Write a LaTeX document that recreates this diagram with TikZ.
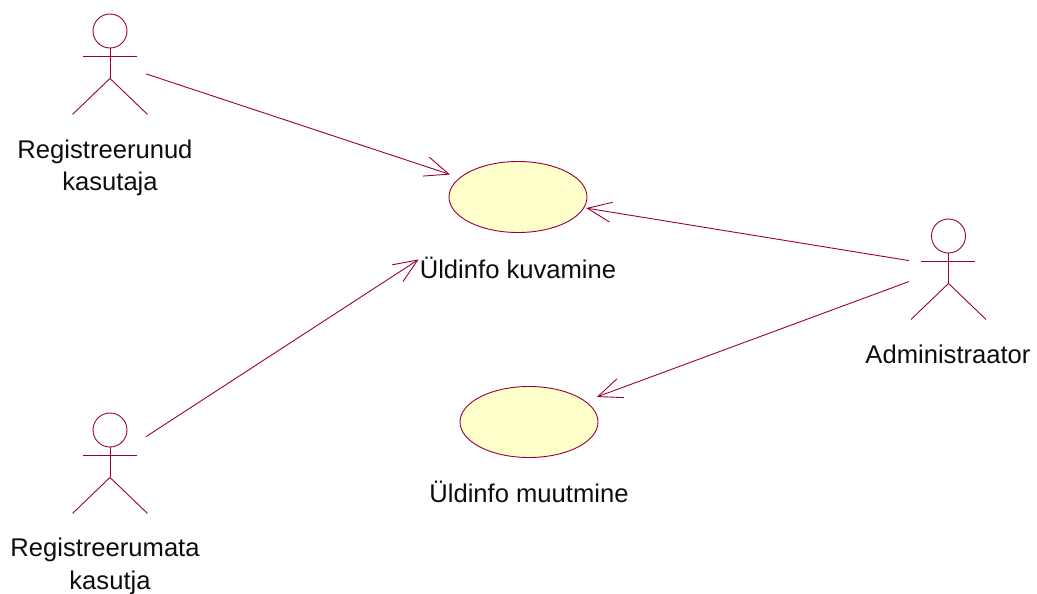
\documentclass[tikz,border=0pt]{standalone}
\usepackage{fontspec}
\setmainfont{Liberation Sans}
\usetikzlibrary{arrows.meta,shapes.geometric,calc}
\definecolor{umlline}{HTML}{990033}
\definecolor{umlfill}{HTML}{FFFFCC}
\tikzset{
  umlstroke/.style={draw=umlline,line width=0.9pt},
  usecase/.style={ellipse,umlstroke,fill=umlfill,inner sep=0pt,minimum width=138pt,minimum height=71pt},
  actorbox/.style={rectangle,inner sep=0pt,minimum width=#1,minimum height=100pt},
  head/.style={circle,umlstroke,inner sep=0pt,minimum size=34pt},
  lbl/.style={font=\fontsize{25.6}{32.5}\selectfont,align=center,inner sep=0pt,text=black!95},
  assoc/.style={umlstroke,-{Straight Barb[length=24pt,width=20pt,line width=0.9pt]}},
}
\newcommand{\actorfig}[3]{%
  \node[head] (#3h) at (#1,#2) {};
  \draw[umlstroke] (#3h.south) -- ++(0,30) coordinate (#3hip);
  \draw[umlstroke] ($(#3h.south)+(-27.5,8)$) -- ++(54,0);
  \draw[umlstroke] (#3hip) -- ++(-37.5,36);
  \draw[umlstroke] (#3hip) -- ++(37.5,36);
}
\begin{document}
\begin{tikzpicture}[x=1pt,y=-1pt]
\useasboundingbox (0,0) rectangle (1037,594);
% actors
\actorfig{110}{31}{pa}
\actorfig{110}{430}{pb}
\actorfig{948.5}{236}{pc}
\node[actorbox=72pt] (a1) at (110,62) {};
\node[actorbox=72pt] (a2) at (110,460) {};
\node[actorbox=79pt] (a3) at (948.5,267) {};
% use cases
\node[usecase] (u1) at (518,197) {};
\node[usecase] (u2) at (529,422) {};
% labels
\node[lbl] (l1) at (105,168) {Registreerunud\\\hspace*{10pt}kasutaja};
\node[lbl] (l2) at (105,566.5) {Registreerumata\\\hspace*{10pt}kasutja};
\node[lbl] (l3) at (948,354) {Administraator};
\node[lbl] (l4) at (518,267.5) {Üldinfo kuvamine};
\node[lbl] (l5) at (529,491.5) {Üldinfo muutmine};
% connectors
\draw[assoc,shorten >=10pt] (a1) -- (u1);
\draw[assoc] (a2) -- ($(l4.north west)+(-1,3)$);
\draw[assoc,shorten >=2pt] (a3) -- (u1);
\draw[assoc,shorten >=12pt] (a3) -- (u2);
\end{tikzpicture}
\end{document}
